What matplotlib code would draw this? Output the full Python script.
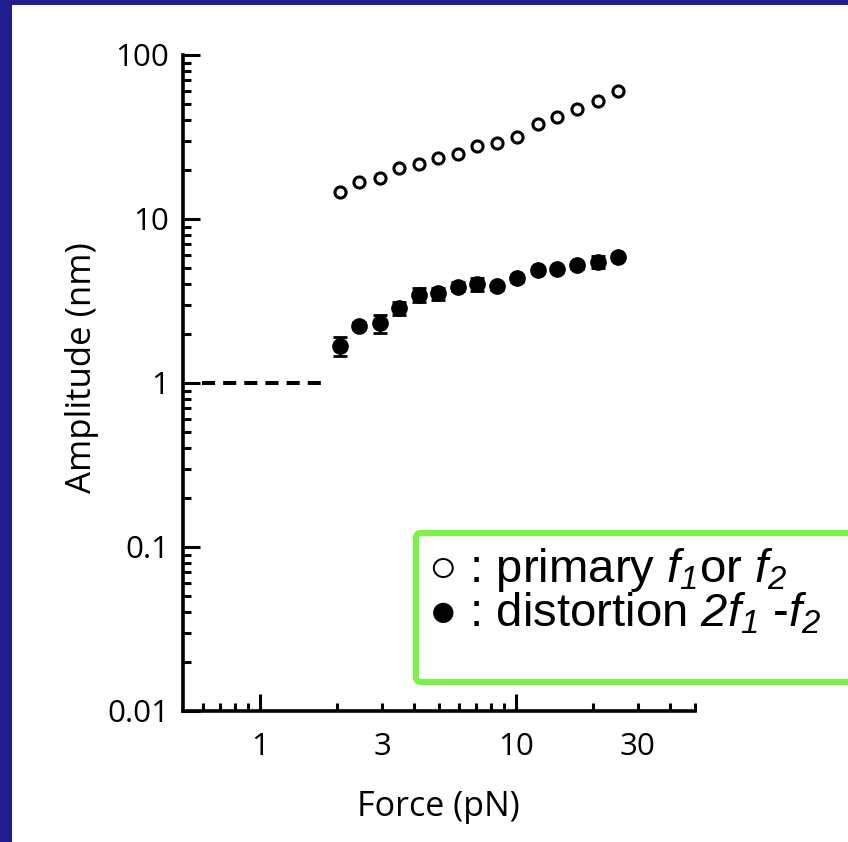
import matplotlib
matplotlib.use("Agg")
import matplotlib.pyplot as plt
from matplotlib.patches import Rectangle, FancyBboxPatch
from matplotlib.ticker import FixedLocator, FixedFormatter, NullFormatter

# Applied force (pN) for each measurement
force = [2.05, 2.43, 2.94, 3.48, 4.17, 4.97, 5.92, 7.06, 8.42, 10.1,
         12.2, 14.5, 17.4, 20.9, 25.0]
# Amplitude of the primary tones f1 / f2 (nm)
primary = [14.7, 16.9, 17.7, 20.4, 21.6, 23.4, 24.9, 27.9, 29.2, 31.8,
           37.9, 41.7, 46.9, 52.6, 60.3]
# Amplitude of the 2f1 - f2 distortion product (nm) and its error
distortion = [1.68, 2.23, 2.31, 2.85, 3.44, 3.52, 3.87, 4.00, 3.90, 4.35,
              4.88, 4.93, 5.24, 5.49, 5.89]
distortion_err = [0.22, 0.11, 0.28, 0.27, 0.33, 0.30, 0.25, 0.38, 0.20, 0.22,
                  0.20, 0.20, 0.25, 0.48, 0.25]
# Noise floor below the lowest force
floor_force = [0.594, 1.73]
floor_amp = [1.0, 1.0]

x_major = [1, 10]
x_minor = [0.6, 0.7, 0.8, 0.9, 2, 3, 4, 5, 6, 7, 8, 9, 20, 30, 40, 50]
x_minor_labels = ["" if v not in (3, 30) else str(v) for v in x_minor]
y_major = [0.01, 0.1, 1, 10, 100]
y_major_labels = ["0.01", "0.1", "1", "10", "100"]
y_minor = [m * d for d in (0.01, 0.1, 1, 10) for m in range(2, 10)]

# the only math text is the italic frequency notation in the key
plt.rcParams["mathtext.fontset"] = "custom"
plt.rcParams["mathtext.rm"] = "Liberation Sans:italic"
plt.rcParams["mathtext.it"] = "Liberation Sans:italic"

W, H = 848, 842
fig = plt.figure(figsize=(W / 100, H / 100), dpi=100)
fig.patch.set_facecolor("white")

# navy frame strips on the left and top
navy = "#211e8f"
fig.patches.append(Rectangle((0, 0), 12 / W, 1, transform=fig.transFigure,
                             facecolor=navy, edgecolor="none", zorder=0))
fig.patches.append(Rectangle((0, 1 - 5 / H), 1, 5 / H, transform=fig.transFigure,
                             facecolor=navy, edgecolor="none", zorder=0))

left, right, top, bottom = 183, 694.6, 55, 711
ax = fig.add_axes([left / W, 1 - bottom / H, (right - left) / W, (bottom - top) / H])
ax.set_facecolor("none")
ax.set_xscale("log")
ax.set_yscale("log")
ax.set_xlim(0.5, 50)
ax.set_ylim(0.01, 100)

for s in ("top", "right"):
    ax.spines[s].set_visible(False)
for s in ("left", "bottom"):
    ax.spines[s].set_linewidth(2.6)

ax.xaxis.set_major_locator(FixedLocator(x_major))
ax.xaxis.set_major_formatter(FixedFormatter([str(v) for v in x_major]))
ax.xaxis.set_minor_locator(FixedLocator(x_minor))
ax.xaxis.set_minor_formatter(FixedFormatter(x_minor_labels))
ax.yaxis.set_major_locator(FixedLocator(y_major))
ax.yaxis.set_major_formatter(FixedFormatter(y_major_labels))
ax.yaxis.set_minor_locator(FixedLocator(y_minor))
ax.yaxis.set_minor_formatter(NullFormatter())

tick_font = "Open Sans"
ax.tick_params(which="major", direction="in", length=12, width=2.2, labelsize=22.5)
ax.tick_params(which="minor", direction="in", length=6, width=2.2, labelsize=22.5)
ax.tick_params(axis="x", which="both", pad=15)
ax.tick_params(axis="y", which="both", pad=10)
for lab in ax.get_xticklabels(which="both") + ax.get_yticklabels():
    lab.set_fontfamily(tick_font)

ax.set_xlabel("Force (pN)", fontsize=24.5, fontfamily=tick_font)
ax.set_ylabel("Amplitude (nm)", fontsize=25, fontfamily=tick_font)
ax.xaxis.set_label_coords((438.5 - left) / (right - left), (bottom - 807) / (bottom - top))
ax.xaxis.label.set_va("center")
ax.yaxis.set_label_coords((82 - left) / (right - left), (bottom - 368) / (bottom - top))
ax.yaxis.label.set_va("center")

# noise floor
ax.plot(floor_force, floor_amp, color="black", lw=2.9,
        linestyle=(0, (3.25, 2.0)), dash_capstyle="butt", zorder=2)

# primary tones
ax.plot(force, primary, "o", mfc="white", mec="black", ms=8, mew=2.2, zorder=3)

# distortion product with error bars
ax.errorbar(force, distortion, yerr=distortion_err, fmt="o", color="black",
            ms=11, capsize=5, capthick=2, elinewidth=2, zorder=3)

# key box
box = FancyBboxPatch((416 / W, 1 - 682 / H), (880 - 416) / W, (682 - 533) / H,
                     boxstyle="round,pad=0,rounding_size=0.006",
                     transform=fig.transFigure, facecolor="white",
                     edgecolor="#77f542", linewidth=4.3, clip_on=False, zorder=5)
fig.patches.append(box)

key_font = ["Liberation Sans", "DejaVu Sans"]
fig.text(428 / W, 1 - 570 / H, "\u25cb : primary $f_1$or $f_2$",
         fontsize=34, family=key_font, va="center", ha="left", zorder=6)
fig.text(428 / W, 1 - 614 / H, "\u25cf : distortion $2f_1$ -$f_2$",
         fontsize=34, family=key_font, va="center", ha="left", zorder=6)

fig.savefig("out.png", dpi=100)
